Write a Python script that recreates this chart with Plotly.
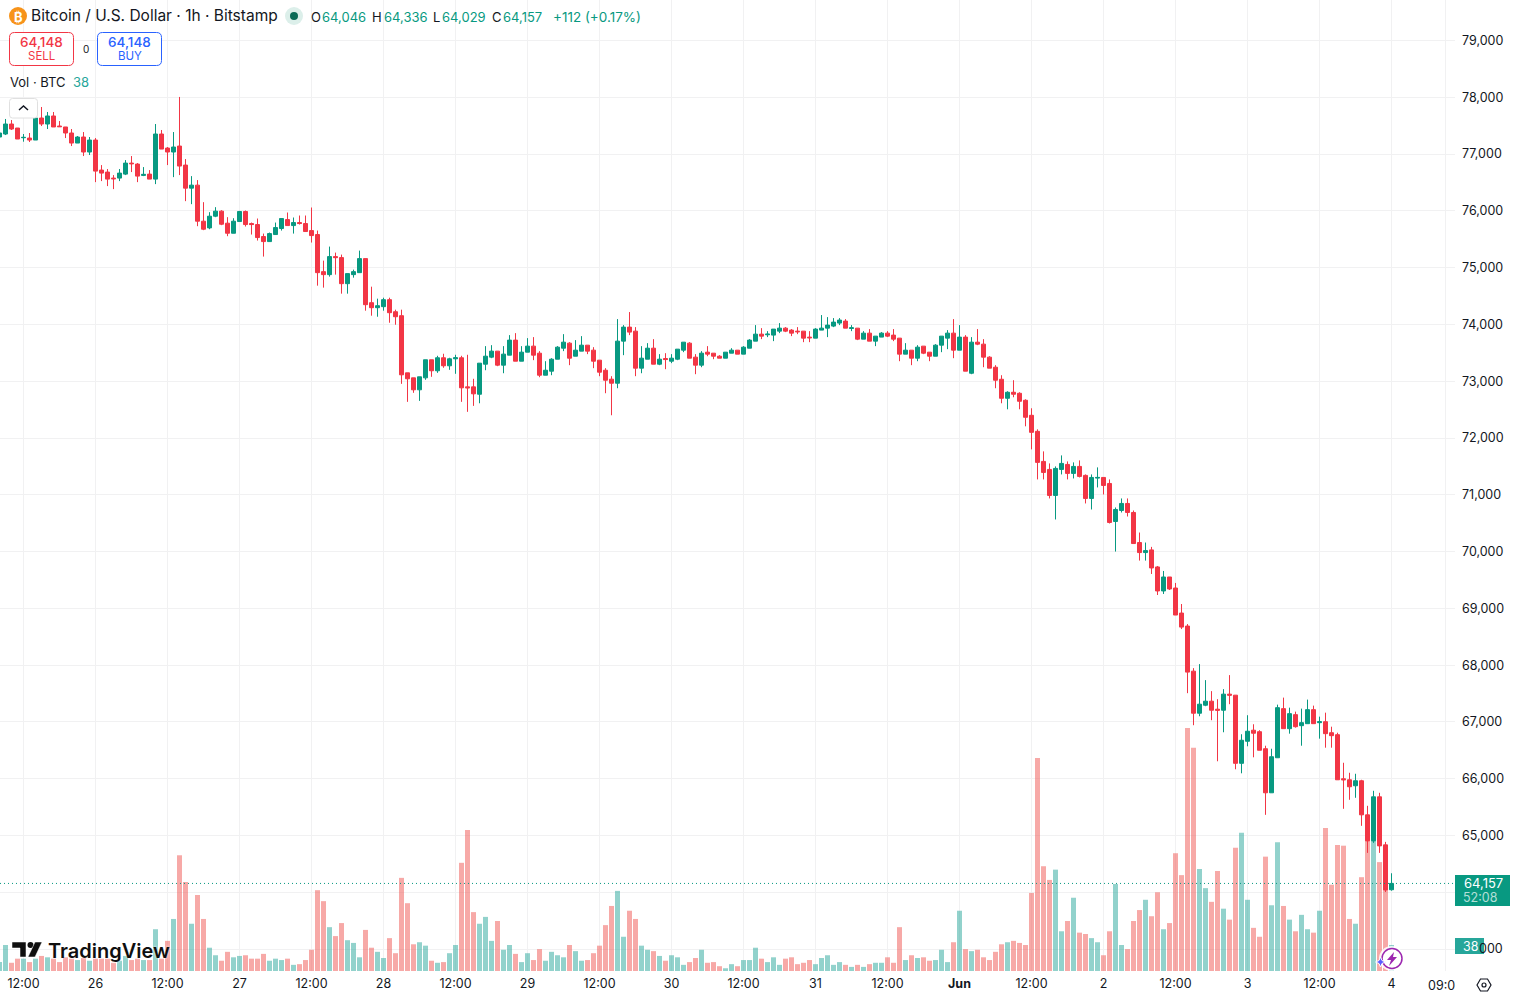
import plotly.graph_objects as go

# Hourly BTC/USD candles; index 0 is the 12:00 bar of 25 May, one step per hour.
hours = list(range(-4, 229))
opens = [
    77300,77353,77529,77459,77288,77282,77247,77635,77529,77671,77494,77477,
    77371,77194,77300,77036,77247,76718,76683,76577,76577,76647,76841,76824,
    76624,76647,76559,77353,77106,77036,77141,76806,76400,76453,75818,75700,
    75906,75995,75783,75606,75812,75989,75777,75759,75548,75459,75583,75689,
    75847,75741,75794,75777,75653,75583,74930,74877,75195,75177,74718,74877,
    74912,75159,74383,74295,74313,74436,74224,74154,73148,73060,72849,73060,
    73378,73184,73413,73272,73395,73413,72901,72901,72771,73300,73424,73530,
    73283,73459,73724,73353,73512,73618,73494,73106,73177,73388,73582,73671,
    73441,73530,73635,73547,73371,73194,73036,72965,73706,73953,73882,73230,
    73388,73582,73300,73400,73353,73388,73547,73671,73424,73283,73512,73494,
    73441,73406,73494,73547,73477,73582,73706,73829,73818,73812,73882,73935,
    73900,73882,73882,73777,73759,73900,73935,73971,74024,74059,73929,73935,
    73741,73847,73706,73777,73847,73812,73759,73477,73547,73406,73618,73512,
    73441,73635,73759,73847,73547,73777,73141,73688,73653,73424,73247,73035,
    72700,72806,72788,72665,72400,72118,71588,71447,70989,71447,71535,71377,
    71500,71342,70936,71294,71306,71200,70530,70724,70848,70689,70160,69983,
    70030,69730,69307,69553,69359,68918,68689,67895,67154,67295,67366,67225,
    67207,67490,67472,66272,66660,66855,66829,66529,65753,66370,67235,66882,
    67129,66935,66970,67217,66988,67005,66811,66776,66000,65982,65877,65965,
    65365,64906,65682,64836,64046,
]
highs = [
    77394,77618,77600,77459,77353,77371,77706,77829,77741,77741,77582,77477,
    77441,77318,77388,77300,77282,76806,76736,76630,76736,76894,76965,76841,
    76771,76718,77529,77424,77124,77388,78006,76912,76612,76542,76153,75977,
    76065,76012,75889,75871,76000,76006,75794,75865,75600,75618,75794,75865,
    75971,75883,75918,75918,76059,75653,75124,75371,75265,75230,74895,74965,
    75300,75159,74665,74454,74471,74471,74260,74260,73148,73060,73078,73378,
    73378,73448,73484,73413,73466,73448,73466,73043,73318,73618,73635,73530,
    73618,73812,73847,73618,73759,73777,73530,73353,73406,73618,73829,73688,
    73724,73794,73635,73600,73371,73230,73089,74094,73988,74218,73953,73618,
    73671,73741,73477,73494,73477,73565,73688,73688,73477,73530,73618,73494,
    73459,73512,73582,73547,73618,73741,73988,73935,73882,73918,74024,73953,
    73918,73953,73882,73882,73935,74165,74129,74112,74112,74094,73988,73935,
    73882,73918,73794,73865,73882,73918,73759,73671,73547,73635,73618,73512,
    73653,73794,73900,74094,73988,73812,73777,73918,73741,73441,73283,73106,
    72824,73018,72806,72682,72524,72153,71765,71553,71500,71694,71588,71571,
    71606,71359,71359,71483,71306,71271,70777,70936,70936,70724,70336,70160,
    70083,69747,69659,69553,69448,69077,68724,67948,68019,67737,67543,67401,
    67578,67825,67472,66784,67119,66960,66855,66582,66529,67305,67429,67252,
    67182,67235,67394,67288,67094,67164,66917,66811,66282,66106,66088,65982,
    65524,65788,65753,64889,64336,
]
lows = [
    77288,77335,77424,77265,77218,77212,77247,77494,77441,77477,77477,77282,
    77141,77194,76965,76983,76506,76524,76436,76383,76524,76630,76683,76506,
    76612,76559,76471,77088,76806,76594,76630,76171,76118,75730,75660,75677,
    75889,75748,75554,75606,75812,75724,75583,75477,75195,75459,75583,75653,
    75741,75600,75759,75636,75442,74683,74648,74842,74877,74542,74542,74824,
    74912,74242,74154,74136,74242,74030,73995,72954,72637,72796,72654,73025,
    73078,73148,73237,73201,73131,72637,72461,72566,72612,73194,73406,73265,
    73141,73459,73353,73353,73512,73371,73071,73106,73106,73388,73530,73283,
    73441,73530,73477,73230,73089,72789,72401,72877,73459,73812,73089,73141,
    73388,73300,73283,73212,73318,73371,73512,73406,73124,73247,73441,73388,
    73406,73406,73494,73477,73477,73582,73706,73741,73777,73706,73847,73865,
    73794,73829,73688,73688,73759,73900,73777,73953,73988,73935,73882,73724,
    73741,73706,73618,73777,73777,73706,73353,73477,73283,73353,73477,73353,
    73441,73512,73565,73406,73547,73177,73124,73635,73247,73230,72877,72612,
    72506,72718,72506,72206,71800,71271,71271,70936,70566,71359,71271,71288,
    71306,70848,70742,71130,71006,70495,70001,70689,70618,70142,69842,69842,
    69606,69236,69254,69324,68883,68636,67507,66943,67101,67278,67031,66308,
    66819,67313,66167,66096,66572,66378,66502,65365,65753,66370,66882,66794,
    66900,66582,66970,66970,66706,66547,66547,65982,65471,65630,65665,65171,
    64695,64871,64695,64006,64029,
]
closes = [
    77371,77529,77441,77265,77294,77247,77635,77529,77671,77477,77482,77371,
    77194,77300,77036,77247,76700,76665,76559,76565,76665,76841,76830,76612,
    76642,76559,77353,77088,77036,77124,76789,76400,76453,75818,75677,75906,
    75995,75765,75606,75818,75989,75759,75759,75530,75459,75600,75706,75865,
    75741,75794,75777,75636,75565,74912,74877,75195,75177,74718,74895,74930,
    75159,74348,74295,74330,74436,74207,74136,73113,73043,72849,73078,73378,
    73184,73413,73272,73395,73413,72884,72884,72778,73318,73441,73530,73283,
    73477,73724,73353,73512,73618,73459,73106,73194,73388,73600,73688,73406,
    73547,73635,73530,73353,73159,73018,72965,73706,73953,73865,73230,73406,
    73582,73300,73388,73382,73406,73565,73688,73406,73283,73494,73477,73441,
    73406,73512,73547,73477,73600,73724,73829,73794,73829,73918,73935,73882,
    73847,73871,73759,73765,73918,73935,73988,74041,74077,73935,73941,73741,
    73847,73706,73794,73847,73794,73741,73477,73547,73406,73600,73494,73441,
    73635,73794,73847,73547,73777,73177,73688,73653,73424,73230,73018,72700,
    72806,72771,72647,72365,72100,71571,71394,70989,71465,71553,71377,71500,
    71324,70936,71306,71306,71165,70513,70742,70848,70689,70142,69983,70018,
    69712,69307,69553,69342,68883,68671,67878,67154,67313,67366,67207,67207,
    67490,67472,66272,66678,66837,66802,66502,65753,66388,67252,66882,67147,
    66917,66988,67217,66970,67005,66794,66759,65982,65982,65859,65965,65365,
    64906,65682,64818,64042,64157,
]
volumes = [
    13,38,12,18,18,13,18,22,20,18,13,20,
    18,16,19,15,18,18,18,12,15,22,16,18,
    16,16,61,18,44,76,169,130,69,111,76,34,
    23,15,28,20,22,23,18,18,25,15,18,16,
    18,9,10,16,31,118,102,64,51,70,45,41,
    20,60,34,28,19,48,26,136,99,39,42,37,
    15,12,13,26,38,158,206,86,69,79,44,73,
    31,38,25,13,26,16,32,15,28,23,20,38,
    29,15,16,26,37,67,95,117,50,88,76,37,
    31,29,22,15,23,20,9,13,19,31,12,13,
    7,4,10,7,16,16,34,18,13,20,9,18,
    20,10,12,16,10,19,23,9,13,9,6,9,
    6,10,12,12,20,12,64,16,23,19,20,15,
    16,31,13,42,88,32,29,31,20,16,28,39,
    42,44,41,38,114,311,153,133,148,58,73,107,
    56,54,48,42,23,58,127,38,32,73,89,104,
    80,115,61,70,172,140,355,326,149,121,101,146,
    91,75,180,202,104,63,50,167,96,188,95,75,
    58,82,61,56,88,209,126,184,183,76,69,137,
    190,190,159,124,38,
]

tick_hours = [0,12,24,36,48,60,72,84,96,108,120,132,144,156,168,180,192,204,216,228,237]
tick_labels = ["12:00","26","12:00","27","12:00","28","12:00","29","12:00","30","12:00",
               "31","12:00","<b>Jun</b>","12:00","2","12:00","3","12:00","4"," "]
price_ticks = list(range(63000, 80000, 1000))
# The two lowest price ticks sit behind the last-price and volume tags.
price_tick_labels = ["" if p < 65000 else f"{p:,}" for p in price_ticks]

FONT = "Inter, Roboto, sans-serif"
INK = "#131722"
UP = "#089981"
DOWN = "#f23645"
GRID = "#f1f1f2"
PW, PH = 1455, 971

def px(x): return x / PW
def py(y): return 1 - y / PH

def label(x, y, text, size=13, color=INK, anchor="left", **font):
    shift = -1 if anchor == "left" else 0
    return dict(xref="paper", yref="paper", x=px(x + shift), y=py(y), text=text, showarrow=False,
                xanchor=anchor, yanchor="middle", borderpad=0, align=anchor,
                font=dict(family=FONT, size=size, color=color, **font))

def box(x0, y0, x1, y1, line=None, fill=None, width=1, kind="rect"):
    return dict(type=kind, xref="paper", yref="paper", x0=px(x0), x1=px(x1), y0=py(y0), y1=py(y1),
                line=dict(color=line or "rgba(0,0,0,0)", width=width if line else 0),
                fillcolor=fill or "rgba(0,0,0,0)", layer="above")

def rounded(x0, y0, x1, y1, r, line, fill="#ffffff", width=1):
    pts = (f"M{px(x0+r)},{py(y0)} L{px(x1-r)},{py(y0)} Q{px(x1)},{py(y0)} {px(x1)},{py(y0+r)} "
           f"L{px(x1)},{py(y1-r)} Q{px(x1)},{py(y1)} {px(x1-r)},{py(y1)} L{px(x0+r)},{py(y1)} "
           f"Q{px(x0)},{py(y1)} {px(x0)},{py(y1-r)} L{px(x0)},{py(y0+r)} Q{px(x0)},{py(y0)} {px(x0+r)},{py(y0)} Z")
    return dict(type="path", xref="paper", yref="paper", path=pts, layer="above",
                line=dict(color=line, width=width), fillcolor=fill)

def poly(points, fill=None, line=None, width=1, close=True):
    head, *rest = points
    path = f"M{px(head[0])},{py(head[1])} " + " ".join(f"L{px(a)},{py(b)}" for a, b in rest)
    return dict(type="path", xref="paper", yref="paper", path=path + (" Z" if close else ""), layer="above",
                line=dict(color=line or "rgba(0,0,0,0)", width=width if line else 0),
                fillcolor=fill or "rgba(0,0,0,0)")

fig = go.Figure()
fig.add_bar(
    x=hours, y=volumes, width=5 / 6, yaxis="y", hoverinfo="skip",
    marker=dict(color=["rgba(38,166,154,0.5)" if c >= o else "rgba(239,83,80,0.5)"
                       for o, c in zip(opens, closes)], line_width=0),
)
fig.add_candlestick(
    x=hours, open=opens, high=highs, low=lows, close=closes, yaxis="y2",
    increasing=dict(line=dict(color=UP, width=1), fillcolor=UP),
    decreasing=dict(line=dict(color=DOWN, width=1), fillcolor=DOWN),
    whiskerwidth=0,
)

last_close = closes[-1]
shapes = [
    dict(type="line", xref="paper", yref="y2", x0=0, x1=1, y0=last_close, y1=last_close, layer="above",
         line=dict(color=UP, width=1, dash="1px,3px")),
    # order ticket buttons and collapse chevron
    rounded(9.5, 32.5, 73.5, 65.5, 5, "#f23645"),
    rounded(97.5, 32.5, 161.5, 65.5, 5, "#2962ff"),
    rounded(9.5, 98.5, 37.5, 118, 3, "#e0e0e0"),
    poly([(19, 110), (23.5, 106), (28, 110)], line=INK, width=1.5, close=False),
    # symbol and status icons
    box(9, 7, 27, 25, fill="#f7931a", kind="circle"),
    box(285, 7, 303, 25, fill="#dcefea", kind="circle"),
    box(290, 12, 298, 20, fill="#0b6b57", kind="circle"),
    # last price and volume tags
    box(1455, 875, 1510, 906, fill=UP),
    box(1455, 938, 1484, 954, fill="#26a69a"),
    # logo mark
    poly([(12, 942), (26, 942), (26, 957), (20, 957), (20, 948), (12, 948)], fill="#0f0f0f", line="#ffffff", width=0.5),
    box(27.5, 942, 33.5, 948, fill="#0f0f0f", kind="circle"),
    poly([(35, 942), (42, 942), (35, 957), (28, 957)], fill="#0f0f0f", line="#ffffff", width=0.5),
    # assistant badge
    box(1379, 946, 1404, 971, fill="rgba(255,255,255,0.85)", kind="circle"),
    box(1382, 948.5, 1402, 968.5, line="#9c27b0", fill="#ffffff", width=1.5, kind="circle"),
    poly([(1394, 952), (1387, 960), (1391, 960), (1389, 966), (1397, 957), (1393, 957)], fill="#9c27b0"),
    poly([(1380.5, 957), (1382, 960.5), (1385.5, 962), (1382, 963.5), (1380.5, 967), (1379, 963.5),
          (1375.5, 962), (1379, 960.5)], fill="#5b5bff", line="#ffffff", width=1),
    # chart settings hexagon
    poly([(1477, 985), (1480.5, 979), (1487.5, 979), (1491, 985), (1487.5, 991), (1480.5, 991)], line=INK, width=1.2),
    box(1482, 983, 1486, 987, line=INK, width=1.2, kind="circle"),
]

annotations = [
    label(18, 16.5, "₿", size=13, color="#ffffff", anchor="center", weight="bold"),
    label(31, 16, "Bitcoin / U.S. Dollar · 1h · Bitstamp", size=15.5),
    label(311, 16.5, "O", size=13), label(322, 16.5, f"{opens[-1]:,}", size=13, color=UP),
    label(372, 16.5, "H", size=13), label(384, 16.5, f"{highs[-1]:,}", size=13, color=UP),
    label(433, 16.5, "L", size=13), label(442, 16.5, f"{lows[-1]:,}", size=13, color=UP),
    label(492, 16.5, "C", size=13), label(503, 16.5, f"{last_close:,}", size=13, color=UP),
    label(553, 16.5, "+112 (+0.17%)", size=13.5, color=UP),
    label(41.5, 42, "64,148", size=13.5, color="#f23645", anchor="center", weight=500),
    label(41.5, 56, "SELL", size=11.5, color="#f23645", anchor="center"),
    label(85.5, 49, "0", size=10, anchor="center"),
    label(129.5, 42, "64,148", size=13.5, color="#2962ff", anchor="center", weight=500),
    label(129.5, 56, "BUY", size=11.5, color="#2962ff", anchor="center"),
    label(10, 82.5, "Vol · BTC", size=13),
    label(73, 82.5, "38", size=13, color="#26a69a"),
    label(48, 950.5, "TradingView", size=20, color="#0f0f0f", weight=600, shadow="0 0 3px #ffffff"),
    label(1483, 883, f"{last_close:,}", size=13, color="#ffffff", anchor="center"),
    label(1480, 897, "52:08", size=12.5, color="rgba(255,255,255,0.7)", anchor="center"),
    label(1470, 946, "38", size=12.5, color="#ffffff", anchor="center"),
    label(1504, 948, "000", size=12.5, anchor="right"),
    label(1428, 985, "09:0", size=12.5),
]

fig.update_layout(
    width=1514, height=999, autosize=False, showlegend=False, barmode="overlay", hovermode=False,
    paper_bgcolor="#ffffff", plot_bgcolor="#ffffff", dragmode=False, boxgap=1 / 3, boxgroupgap=0,
    margin=dict(l=0, r=59, t=0, b=28, pad=0),
    font=dict(family=FONT, color=INK),
    shapes=shapes, annotations=annotations,
    xaxis=dict(range=[-23.5 / 6, 1431.5 / 6], tickmode="array", tickvals=tick_hours, ticktext=tick_labels,
               showgrid=True, gridcolor=GRID, gridwidth=1, zeroline=False, showline=False, ticks="",
               rangeslider=dict(visible=False), tickfont=dict(size=12.5, color=INK, family=FONT),
               ticklabelstandoff=3),
    yaxis=dict(range=[0, 1418], domain=[0, 1], visible=False, fixedrange=True),
    yaxis2=dict(range=[62615, 79713], domain=[0, 1], overlaying="y", side="right", tickmode="array",
                tickvals=price_ticks, ticktext=price_tick_labels, showgrid=True,
                gridcolor=GRID, gridwidth=1, zeroline=False, showline=False, ticks="",
                tickfont=dict(size=12.5, color=INK, family=FONT), ticklabelstandoff=6),
)

fig.write_html("out.html", config=dict(displayModeBar=False, staticPlot=True))
